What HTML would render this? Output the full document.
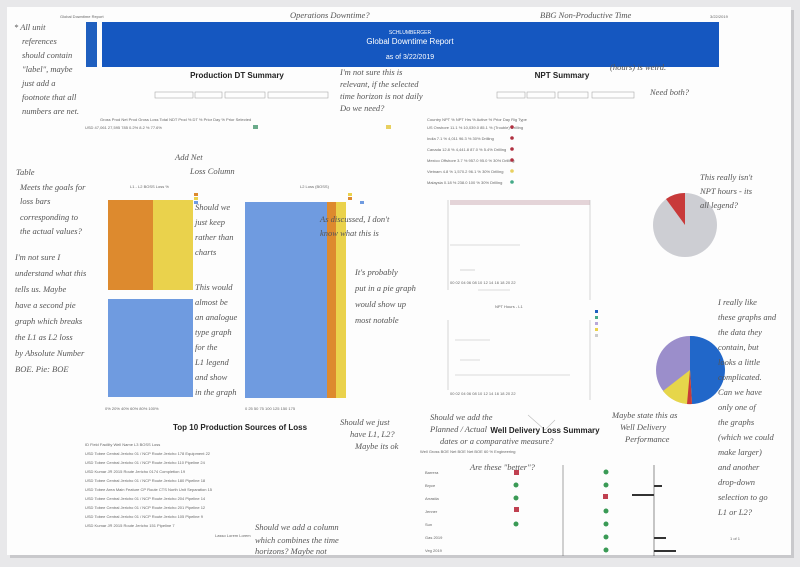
<!DOCTYPE html>
<html><head><style>
body{margin:0;background:#e9e9ea;}
svg{display:block;font-family:"Liberation Sans",sans-serif;}
.h{font-family:"Liberation Serif",serif;font-style:italic;fill:#555;font-size:8.5px;}
.s{font-size:4px;fill:#666;}
</style></head><body>
<svg width="800" height="567" viewBox="0 0 800 567">
<rect x="0" y="0" width="800" height="567" fill="#e8e8ea"/>
<rect x="10" y="10" width="784" height="548" fill="#c9c9cc"/>
<rect x="7" y="7" width="784" height="548" fill="#fdfdfd"/>
<text x="60" y="18" class="s" font-size="5">Global Downtime Report</text>
<text x="710" y="18" class="s" font-size="5">3/22/2019</text>
<rect x="86" y="22" width="11" height="45" fill="#1f5fbf"/>
<rect x="102" y="22" width="617" height="45" fill="#1557c0"/>
<text x="410" y="34" fill="#fff" font-size="5" text-anchor="middle">SCHLUMBERGER</text>
<text x="410" y="44" fill="#fff" font-size="8" text-anchor="middle">Global Downtime Report</text>
<text x="410" y="59" fill="#fff" font-size="7" text-anchor="middle">as of 3/22/2019</text>
<text x="237" y="78" font-size="8" font-weight="bold" text-anchor="middle" fill="#222">Production DT Summary</text>
<text x="562" y="78" font-size="8" font-weight="bold" text-anchor="middle" fill="#222">NPT Summary</text>
<g fill="none" stroke="#aaa" stroke-width="0.6">
<rect x="155" y="92" width="38" height="6"/><rect x="195" y="92" width="27" height="6"/><rect x="225" y="92" width="40" height="6"/><rect x="268" y="92" width="60" height="6"/>
<rect x="497" y="92" width="28" height="6"/><rect x="527" y="92" width="28" height="6"/><rect x="558" y="92" width="30" height="6"/><rect x="592" y="92" width="42" height="6"/>
</g>
<g class="s">
<text x="100" y="121">Gross Prod  Net Prod  Gross Loss  Total NDT Prod  % DT  % Prior Day   %  Prior Selected</text>
<text x="85" y="129">USD   47,061   27,595    785    0.2%       8.2 %           77.6%</text>
</g>
<rect x="253" y="125" width="5" height="4" fill="#6aaa8a"/>
<rect x="386" y="125" width="5" height="4" fill="#e8d060"/>
<g class="s">
<text x="427" y="121">Country     NPT %   NPT Hrs    % Active   % Prior Day   Rig Type</text>
<text x="427" y="129">US Onshore   11.1 %  10,039.0    85.1 %   (Trouble)   Drilling</text>
<text x="427" y="140">India        7.1 %   4,011       96.3 %     30%      Drilling</text>
<text x="427" y="151">Canada       12.8 %  4,441.8     87.0 %     5.4%     Drilling</text>
<text x="427" y="162">Mexico Offshore 3.7 % 957.0     95.0 %     30%      Drilling</text>
<text x="427" y="173">Vietnam      4.8 %   1,570.2     96.1 %     30%      Drilling</text>
<text x="427" y="184">Malaysia     0.18 %   238.0      100 %      30%      Drilling</text>
</g>
<g fill="#b03040"><circle cx="512" cy="127" r="1.8"/><circle cx="512" cy="138" r="1.8"/><circle cx="512" cy="149" r="1.8"/><circle cx="512" cy="160" r="1.8"/><circle cx="512" cy="182" r="1.8" fill="#4a8"/></g>
<circle cx="512" cy="171" r="1.8" fill="#e8d060"/>
<text x="130" y="188" class="s" font-size="5">L1 - L2 BOSS Loss %</text>
<text x="300" y="188" class="s" font-size="5">L2 Loss (BOSS)</text>
<rect x="108" y="200" width="45" height="90" fill="#dd8a2e"/>
<rect x="153" y="200" width="40" height="90" fill="#ead24c"/>
<rect x="108" y="299" width="85" height="98" fill="#6f9be0"/>
<rect x="194" y="193" width="4" height="3" fill="#dd8a2e"/><rect x="194" y="197" width="4" height="3" fill="#ead24c"/><rect x="194" y="201" width="4" height="3" fill="#6f9be0"/>
<rect x="348" y="193" width="4" height="3" fill="#ead24c"/><rect x="348" y="197" width="4" height="3" fill="#dd8a2e"/><rect x="360" y="201" width="4" height="3" fill="#6f9be0"/>
<rect x="245" y="202" width="82" height="196" fill="#6f9be0"/>
<rect x="327" y="202" width="9" height="196" fill="#dd8a2e"/>
<rect x="336" y="202" width="10" height="196" fill="#ead24c"/>
<text x="105" y="410" class="s">0%   20%   40%   60%   80%  100%</text>
<text x="245" y="410" class="s">0    25    50    75    100   125   150   175</text>
<rect x="450" y="200" width="140" height="5" fill="#e4d4d8"/>
<g stroke="#bbb" stroke-width="0.6" fill="none">
<line x1="450" y1="245" x2="520" y2="245"/><line x1="460" y1="270" x2="475" y2="270"/><line x1="478" y1="290" x2="510" y2="290"/>
<line x1="590" y1="200" x2="590" y2="300"/><line x1="590" y1="320" x2="590" y2="400"/>
<path d="M528 415 L545 430 L555 420"/>
<line x1="455" y1="340" x2="490" y2="340"/><line x1="460" y1="360" x2="480" y2="360"/><line x1="455" y1="375" x2="570" y2="375"/>
<line x1="448" y1="200" x2="448" y2="290"/><line x1="448" y1="320" x2="448" y2="390"/>
</g>
<text x="495" y="308" class="s" font-size="5">NPT Hours - L1</text>
<text x="450" y="395" class="s">00  02  04  06  08  10  12  14  16  18  20  22</text>
<text x="450" y="284" class="s">00  02  04  06  08  10  12  14  16  18  20  22</text>
<g><rect x="595" y="310" width="3" height="3" fill="#1e5fbf"/><rect x="595" y="316" width="3" height="3" fill="#4a8"/><rect x="595" y="322" width="3" height="3" fill="#b8a8d8"/><rect x="595" y="328" width="3" height="3" fill="#ead24c"/><rect x="595" y="334" width="3" height="3" fill="#ccc"/></g>
<circle cx="685" cy="225" r="32" fill="#cdced3"/>
<path d="M685 225 L685 193 A32 32 0 0 0 666 199 Z" fill="#c83a3a"/>
<circle cx="690" cy="370" r="34" fill="#9b8ecb"/>
<path d="M690 370 L690 336 A34 34 0 0 1 692 404 Z" fill="#2167c9"/>
<path d="M690 370 L692 404 A34 34 0 0 1 663 391 Z" fill="#e6d64a"/>
<path d="M690 370 L692 404 A34 34 0 0 1 687 404 Z" fill="#c83a3a"/>
<text x="240" y="430" font-size="8" font-weight="bold" text-anchor="middle" fill="#222">Top 10 Production Sources of Loss</text>
<g class="s">
<text x="85" y="446">ID   Field          Facility                  Well Name        L3              BOSS Loss</text>
<text x="85" y="455">USD  Tobee Central  Jericho 01 / NCP Route    Jericho 178      Equipment        22</text>
<text x="85" y="464">USD  Tobee Central  Jericho 01 / NCP Route    Jericho 110      Pipeline         24</text>
<text x="85" y="473">USD  Kumar          JR 2015 Route             Jericho 0174     Completion       19</text>
<text x="85" y="482">USD  Tobee Central  Jericho 01 / NCP Route    Jericho 180      Pipeline         18</text>
<text x="85" y="491">USD  Tobee Area     Main Feature CP Route     CTS North Unit   Separation       15</text>
<text x="85" y="500">USD  Tobee Central  Jericho 01 / NCP Route    Jericho 204      Pipeline         14</text>
<text x="85" y="509">USD  Tobee Central  Jericho 01 / NCP Route    Jericho 201      Pipeline         12</text>
<text x="85" y="518">USD  Tobee Central  Jericho 01 / NCP Route    Jericho 105      Pipeline         9</text>
<text x="85" y="527">USD  Kumar          JR 2015 Route             Jericho 151      Pipeline         7</text>
<text x="215" y="537">Lasso Lorem Lorem</text>
</g>
<text x="545" y="433" font-size="8" font-weight="bold" text-anchor="middle" fill="#222">Well Delivery Loss Summary</text>
<g class="s">
<text x="420" y="453">Well    Gross BOE   Net BOE   Net BOE 60   % Engineering</text>
<text x="425" y="474">Barrera</text><text x="425" y="487">Bryce</text><text x="425" y="500">Arrastia</text><text x="425" y="513">Jenner</text><text x="425" y="526">Sun</text><text x="425" y="539">Gas 2019</text><text x="425" y="552">Veg 2019</text>
</g>
<g fill="#c04050"><rect x="514" y="470" width="5" height="5"/><rect x="603" y="494" width="5" height="5"/><rect x="514" y="507" width="5" height="5"/></g>
<g fill="#3a9a55"><circle cx="516" cy="485" r="2.5"/><circle cx="516" cy="498" r="2.5"/><circle cx="516" cy="524" r="2.5"/>
<circle cx="606" cy="472" r="2.5"/><circle cx="606" cy="485" r="2.5"/><circle cx="606" cy="511" r="2.5"/><circle cx="606" cy="524" r="2.5"/><circle cx="606" cy="537" r="2.5"/><circle cx="606" cy="550" r="2.5"/></g>
<g fill="#333"><rect x="632" y="494" width="22" height="2"/><rect x="654" y="485" width="8" height="2"/><rect x="654" y="537" width="12" height="2"/><rect x="654" y="550" width="22" height="2"/></g>
<line x1="654" y1="465" x2="654" y2="556" stroke="#444" stroke-width="0.6"/>
<line x1="563" y1="465" x2="563" y2="556" stroke="#666" stroke-width="0.6"/>
<g class="h">
<text x="14" y="30">* All unit</text><text x="22" y="44">references</text><text x="22" y="58">should contain</text><text x="22" y="72">"label", maybe</text><text x="22" y="86">just add a</text><text x="22" y="100">footnote that all</text><text x="22" y="114">numbers are net.</text>
<text x="16" y="175">Table</text><text x="20" y="190">Meets the goals for</text><text x="20" y="204">loss bars</text><text x="20" y="220">corresponding to</text><text x="20" y="234">the actual values?</text>
<text x="15" y="260">I'm not sure I</text><text x="15" y="276">understand what this</text><text x="15" y="292">tells us. Maybe</text><text x="15" y="308">have a second pie</text><text x="15" y="324">graph which breaks</text><text x="15" y="340">the L1 as L2 loss</text><text x="15" y="356">by Absolute Number</text><text x="15" y="372">BOE. Pie: BOE</text>
<text x="195" y="210">Should we</text><text x="195" y="225">just keep</text><text x="195" y="240">rather than</text><text x="195" y="255">charts</text>
<text x="195" y="290">This would</text><text x="195" y="305">almost be</text><text x="195" y="320">an analogue</text><text x="195" y="335">type graph</text><text x="195" y="350">for the</text><text x="195" y="365">L1 legend</text><text x="195" y="380">and show</text><text x="195" y="395">in the graph</text>
<text x="355" y="275">It's probably</text><text x="355" y="291">put in a pie graph</text><text x="355" y="307">would show up</text><text x="355" y="323">most notable</text>
<text x="340" y="75">I'm not sure this is</text><text x="340" y="87">relevant, if the selected</text><text x="340" y="99">time horizon is not daily</text><text x="340" y="111">Do we need?</text>
<text x="320" y="222">As discussed, I don't</text><text x="320" y="236">know what this is</text>
<text x="175" y="160">Add Net</text><text x="190" y="174">Loss Column</text>
<text x="290" y="18">Operations Downtime?</text>
<text x="540" y="18">BBG Non-Productive Time</text>
<text x="610" y="70">(hours) is weird.</text><text x="650" y="95">Need both?</text>
<text x="700" y="180">This really isn't</text><text x="700" y="194">NPT hours - its</text><text x="700" y="208">all legend?</text>
<text x="718" y="305">I really like</text><text x="718" y="320">these graphs and</text><text x="718" y="335">the data they</text><text x="718" y="350">contain, but</text><text x="718" y="365">looks a little</text><text x="718" y="380">complicated.</text><text x="718" y="395">Can we have</text><text x="718" y="410">only one of</text><text x="718" y="425">the graphs</text><text x="718" y="440">(which we could</text><text x="718" y="455">make larger)</text><text x="718" y="470">and another</text><text x="718" y="485">drop-down</text><text x="718" y="500">selection to go</text><text x="718" y="515">L1 or L2?</text>
<text x="340" y="425">Should we just</text><text x="350" y="437">have L1, L2?</text><text x="355" y="449">Maybe its ok</text>
<text x="430" y="420">Should we add the</text><text x="430" y="432">Planned / Actual</text><text x="440" y="444">dates or a comparative measure?</text>
<text x="612" y="418">Maybe state this as</text><text x="620" y="430">Well Delivery</text><text x="625" y="442">Performance</text>
<text x="470" y="470">Are these "better"?</text>
<text x="255" y="530">Should we add a column</text><text x="255" y="543">which combines the time</text><text x="255" y="554">horizons? Maybe not</text>
</g>
<text x="730" y="540" class="s" font-size="6">1 of 1</text>
</svg>
</body></html>
